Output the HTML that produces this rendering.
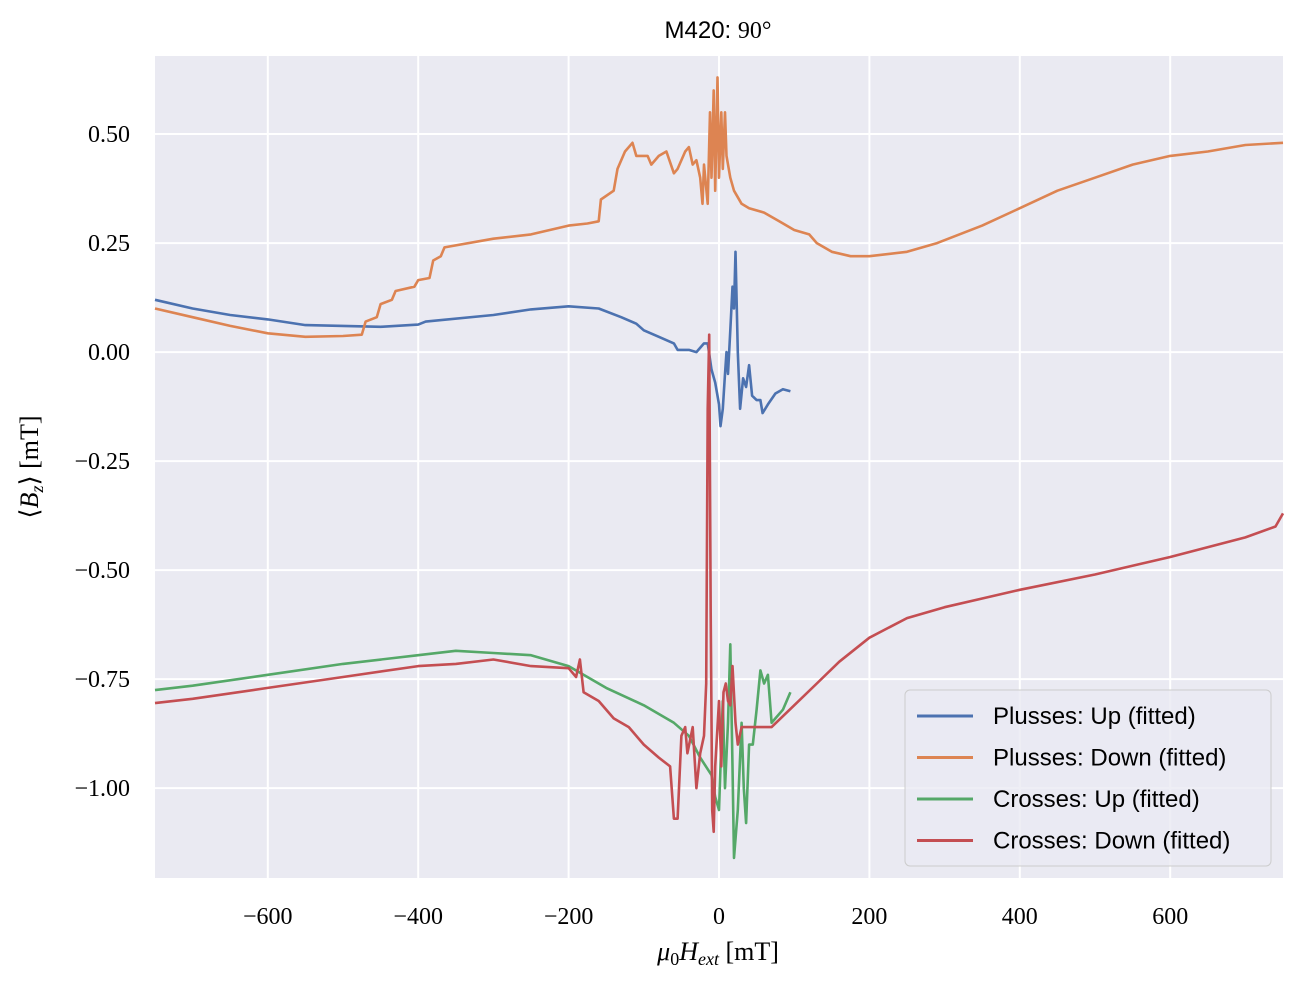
<!DOCTYPE html>
<html><head><meta charset="utf-8"><style>
html,body{margin:0;padding:0;background:#fff;}
svg text{font-family:"Liberation Serif",serif;}
</style></head><body>
<svg id="chart" width="1302" height="988" xmlns="http://www.w3.org/2000/svg">
<rect x="155" y="56" width="1128" height="822" fill="#eaeaf2"/>
<g id="grid"></g>
<g id="series"></g>
<g id="ticks"></g>
<text x="718" y="38" text-anchor="middle" font-size="24" style="font-family:'Liberation Sans',sans-serif">M420: <tspan style="font-family:'Liberation Serif',serif">90°</tspan></text>
<text x="718" y="960" text-anchor="middle" font-size="26"><tspan font-style="italic">μ</tspan><tspan font-size="18" dy="5">0</tspan><tspan font-style="italic" dy="-5">H</tspan><tspan font-style="italic" font-size="18" dy="5">ext</tspan><tspan dy="-5"> [mT]</tspan></text>
<text transform="translate(38,467) rotate(-90)" text-anchor="middle" font-size="26">⟨<tspan font-style="italic">B</tspan><tspan font-style="italic" font-size="18" dy="5">z</tspan><tspan dy="-5">⟩ [mT]</tspan></text>
<g id="legend">
<rect x="905" y="690" width="366" height="176" rx="5" fill="#eaeaf2" fill-opacity="0.8" stroke="#cccccc"/>
</g>
</svg>
<script>
const xTicks=[-600,-400,-200,0,200,400,600];
const yTicks=[0.5,0.25,0,-0.25,-0.5,-0.75,-1.0];
const yTickLabels=["0.50","0.25","0.00","−0.25","−0.50","−0.75","−1.00"];
const xTickLabels=["−600","−400","−200","0","200","400","600"];
const seriesNames=["Plusses: Up (fitted)","Plusses: Down (fitted)","Crosses: Up (fitted)","Crosses: Down (fitted)"];
const colors=["#4c72b0","#dd8452","#55a868","#c44e52"];
const plusUpX=[-750,-700,-650,-600,-550,-500,-450,-400,-390,-300,-250,-200,-160,-130,-110,-100,-80,-60,-55,-40,-30,-20,-15,-10,-5,0,2,5,8,10,12,15,18,20,22,25,28,32,36,40,44,50,55,58,65,75,85,95];
const plusUpY=[0.12,0.10,0.085,0.075,0.062,0.060,0.058,0.063,0.07,0.085,0.098,0.105,0.10,0.08,0.065,0.05,0.035,0.02,0.005,0.005,0.0,0.02,0.02,-0.04,-0.07,-0.12,-0.17,-0.13,-0.05,0.0,-0.05,0.05,0.15,0.1,0.23,0.0,-0.13,-0.06,-0.08,-0.03,-0.10,-0.11,-0.11,-0.14,-0.12,-0.095,-0.085,-0.09];
const plusDownX=[-750,-700,-650,-600,-550,-500,-475,-470,-455,-450,-435,-430,-405,-400,-385,-380,-370,-365,-300,-250,-200,-175,-160,-157,-140,-135,-125,-115,-110,-95,-90,-80,-70,-60,-55,-45,-40,-35,-30,-25,-22,-20,-15,-12,-10,-7,-5,-2,0,3,5,8,10,15,20,30,40,60,80,100,120,130,150,175,200,250,290,350,400,450,500,550,600,650,700,750];
const plusDownY=[0.10,0.08,0.06,0.043,0.035,0.037,0.04,0.07,0.08,0.11,0.12,0.14,0.15,0.165,0.17,0.21,0.22,0.24,0.26,0.27,0.29,0.295,0.30,0.35,0.37,0.42,0.46,0.48,0.45,0.45,0.43,0.45,0.46,0.41,0.42,0.46,0.47,0.43,0.44,0.40,0.34,0.43,0.34,0.55,0.40,0.60,0.37,0.63,0.40,0.55,0.42,0.55,0.45,0.40,0.37,0.34,0.33,0.32,0.30,0.28,0.27,0.25,0.23,0.22,0.22,0.23,0.25,0.29,0.33,0.37,0.40,0.43,0.45,0.46,0.475,0.48];
const crossUpX=[-750,-700,-600,-500,-400,-350,-300,-250,-200,-150,-100,-60,-40,-25,-10,-5,0,2,5,8,12,15,18,20,25,30,33,36,40,45,50,55,60,65,70,75,85,95];
const crossUpY=[-0.775,-0.765,-0.74,-0.715,-0.695,-0.685,-0.69,-0.695,-0.72,-0.77,-0.81,-0.85,-0.88,-0.93,-0.97,-1.02,-1.05,-0.95,-0.80,-1.0,-0.85,-0.67,-0.95,-1.16,-1.05,-0.85,-1.0,-1.08,-0.9,-0.9,-0.82,-0.73,-0.76,-0.74,-0.85,-0.84,-0.82,-0.78];
const crossDownX=[-750,-700,-600,-500,-400,-350,-300,-250,-200,-190,-185,-180,-160,-140,-120,-100,-80,-65,-60,-55,-50,-45,-42,-35,-30,-25,-20,-17,-15,-13,-11,-9,-7,-5,0,3,6,9,12,15,18,22,25,30,50,70,100,130,160,200,250,300,350,400,500,600,700,740,750];
const crossDownY=[-0.805,-0.795,-0.77,-0.745,-0.72,-0.715,-0.705,-0.72,-0.725,-0.745,-0.705,-0.78,-0.80,-0.84,-0.86,-0.90,-0.93,-0.95,-1.07,-1.07,-0.88,-0.86,-0.92,-0.86,-1.0,-0.92,-0.88,-0.76,-0.13,0.04,-0.6,-1.05,-1.1,-0.95,-0.8,-0.95,-0.78,-0.76,-0.80,-0.81,-0.72,-0.85,-0.9,-0.86,-0.86,-0.86,-0.81,-0.76,-0.71,-0.655,-0.61,-0.585,-0.565,-0.545,-0.51,-0.47,-0.425,-0.40,-0.37];
const X0=155,X1=1283,Y0=878,Y1=56,xmin=-750,xmax=750,ymin=-1.206,ymax=0.679;
const sx=v=>X0+(v-xmin)/(xmax-xmin)*(X1-X0);
const sy=v=>Y0-(v-ymin)/(ymax-ymin)*(Y0-Y1);
const NS="http://www.w3.org/2000/svg";
function mk(t,a,p){const e=document.createElementNS(NS,t);for(const k in a)e.setAttribute(k,a[k]);p.appendChild(e);return e;}
const grid=document.getElementById('grid'),ticks=document.getElementById('ticks');
xTicks.forEach((v,i)=>{
  const l=mk('line',{x1:sx(v),x2:sx(v),y1:Y1,y2:Y0,stroke:'#fff','stroke-width':2},grid);
  
  
  const t=mk('text',{x:sx(v),y:924,'text-anchor':'middle','font-size':24},ticks);
  t.textContent=xTickLabels[i];
  
  
});
yTicks.forEach((v,i)=>{
  const l=mk('line',{x1:X0,x2:X1,y1:sy(v),y2:sy(v),stroke:'#fff','stroke-width':2},grid);
  
  
  const t=mk('text',{x:130,y:sy(v)+8,'text-anchor':'end','font-size':24},ticks);
  t.textContent=yTickLabels[i];
  
  
});
const data=[[plusUpX,plusUpY],[plusDownX,plusDownY],[crossUpX,crossUpY],[crossDownX,crossDownY]];
const sg=document.getElementById('series');
const names=['plusses-up-line','plusses-down-line','crosses-up-line','crosses-down-line'];
data.forEach((d,k)=>{
  const pts=d[0].map((x,i)=>sx(x).toFixed(1)+','+sy(d[1][i]).toFixed(1)).join(' ');
  const p=mk('polyline',{points:pts,fill:'none',stroke:colors[k],'stroke-width':2.6,'stroke-linejoin':'round'},sg);
  
  
});
const lg=document.getElementById('legend');
seriesNames.forEach((n,k)=>{
  const y=716+k*41.5;
  const l=mk('line',{x1:917,x2:973,y1:y,y2:y,stroke:colors[k],'stroke-width':3},lg);
  
  
  const t=mk('text',{x:993,y:y+8,'font-size':24,style:"font-family:'Liberation Sans',sans-serif"},lg);
  t.textContent=n;
  
  
});
</script>
</body></html>
